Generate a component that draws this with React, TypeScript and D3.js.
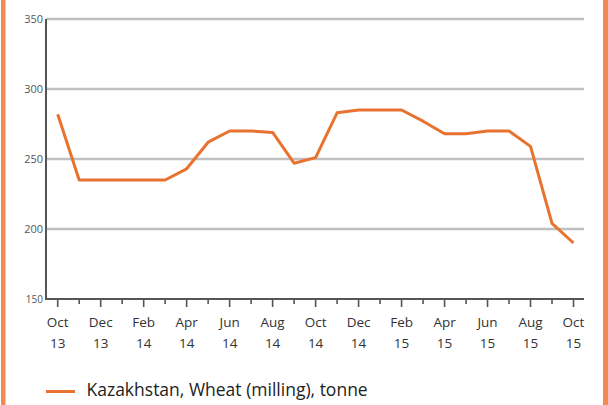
import * as React from 'react';
import { scaleLinear, line as d3line } from 'd3';

const months = [
  'Oct 13', 'Nov 13', 'Dec 13', 'Jan 14', 'Feb 14', 'Mar 14', 'Apr 14', 'May 14', 'Jun 14',
  'Jul 14', 'Aug 14', 'Sep 14', 'Oct 14', 'Nov 14', 'Dec 14', 'Jan 15', 'Feb 15', 'Mar 15',
  'Apr 15', 'May 15', 'Jun 15', 'Jul 15', 'Aug 15', 'Sep 15', 'Oct 15',
];
const wheatPrices = [
  282, 235, 235, 235, 235, 235, 243, 262, 270,
  270, 269, 247, 251, 283, 285, 285, 285, 277,
  268, 268, 270, 270, 259, 204, 190,
];
const yTicks = [150, 200, 250, 300, 350];
const seriesName = 'Kazakhstan, Wheat (milling), tonne';

const W = 608;
const H = 405;
const ORANGE = '#e8722f';
const FONT = '"Open Sans", "Noto Sans", sans-serif';

export default function App() {
  const x = scaleLinear().domain([0, months.length - 1]).range([57.7, 573.5]);
  const y = scaleLinear().domain([150, 350]).range([299, 19]);
  const axisLeft = 46;
  const axisRight = 584;

  const path = d3line<number>()
    .x((_, i) => x(i))
    .y(v => y(v))(wheatPrices) ?? '';

  return (
    <svg width={W} height={H} style={{ position: 'absolute', left: 0, top: 0, background: '#fff' }}>
      {/* orange frame edges */}
      <rect x={1} y={0} width={4.5} height={H} fill="#f08a4f" />
      <rect x={603} y={0} width={5} height={H} fill="#f08a4f" />

      {/* gridlines */}
      {yTicks.filter(t => t > 150).map(t => (
        <line key={t} x1={axisLeft} x2={axisRight} y1={y(t)} y2={y(t)} stroke="#c0c0c0" strokeWidth={2.4} />
      ))}
      {yTicks.map(t => (
        <text key={t} x={43} y={y(t) + 4} textAnchor="end" fontFamily={FONT}
          fontSize={t === 150 ? 10 : 11} fill="#555">{t}</text>
      ))}

      {/* axes */}
      <line x1={axisLeft} x2={axisLeft} y1={y(350)} y2={y(150) + 1} stroke="#555" strokeWidth={2} />
      <line x1={axisLeft} x2={axisRight} y1={y(150)} y2={y(150)} stroke="#555" strokeWidth={2} />

      {months.map((m, i) => {
        const major = i % 2 === 0;
        const [mon, yr] = m.split(' ');
        return (
          <g key={m} transform={`translate(${x(i)},${y(150)})`}>
            <line y1={0} y2={major ? 8 : 5} stroke="#555" strokeWidth={1.6} />
            {major && (
              <>
                <text y={28} textAnchor="middle" fontFamily={FONT} fontSize={13.5} fill="#333">{mon}</text>
                <text y={49} textAnchor="middle" fontFamily={FONT} fontSize={13.5} fill="#333">{yr}</text>
              </>
            )}
          </g>
        );
      })}

      <path d={path} fill="none" stroke={ORANGE} strokeWidth={3} strokeLinejoin="round" />

      {/* legend */}
      <line x1={46} x2={75} y1={391.5} y2={391.5} stroke={ORANGE} strokeWidth={3} />
      <text x={86.5} y={396} fontFamily={FONT} fontSize={17.5} fill="#222">{seriesName}</text>
    </svg>
  );
}
